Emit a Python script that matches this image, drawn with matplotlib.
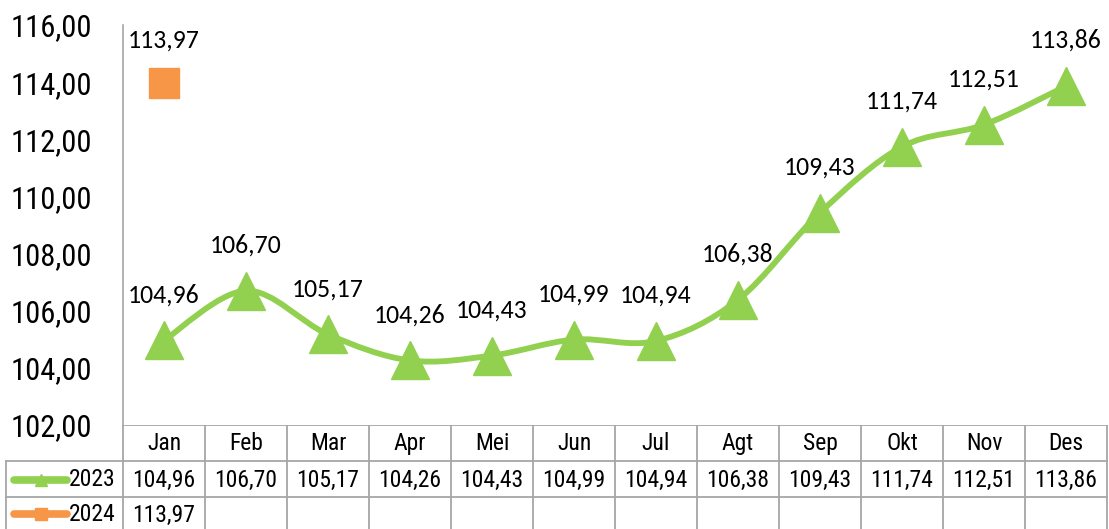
import matplotlib.pyplot as plt
import numpy as np
from matplotlib.path import Path
from matplotlib.patches import PathPatch
from matplotlib.lines import Line2D

# Data
months = ['Jan', 'Feb', 'Mar', 'Apr', 'Mei', 'Jun', 'Jul', 'Agt', 'Sep', 'Okt', 'Nov', 'Des']
values_2023 = [104.96, 106.70, 105.17, 104.26, 104.43, 104.99, 104.94, 106.38, 109.43, 111.74, 112.51, 113.86]
values_2024 = [113.97]
series_names = ['2023', '2024']
y_ticks = [102, 104, 106, 108, 110, 112, 114, 116]

green = '#92D050'
orange = '#F79646'
grid_gray = '#A6A6A6'
narrow = ['Roboto Condensed', 'Archivo Narrow', 'DejaVu Sans']
label_family = ['Carlito', 'Open Sans', 'DejaVu Sans']

W, H = 1109, 529
fig = plt.figure(figsize=(W / 100, H / 100), dpi=100)

# plot area in pixels
left, right, top, bottom = 123, 1107, 25, 425


def fx(px):
    return px / W


def fy(py):
    return 1 - py / H


def fmt(v):
    return ('%.2f' % v).replace('.', ',')


ax = fig.add_axes([fx(left), fy(bottom), fx(right) - fx(left), fy(top) - fy(bottom)])
ax.set_xlim(0, len(months))
ax.set_ylim(102, 116)
for s in ['top', 'right', 'bottom']:
    ax.spines[s].set_visible(False)
ax.spines['left'].set_color(grid_gray)
ax.spines['left'].set_linewidth(1.2)
ax.set_xticks([])
ax.set_yticks(y_ticks)
ax.set_yticklabels([fmt(v) for v in y_ticks], family=narrow, fontsize=22)
ax.tick_params(axis='y', length=0, pad=22)

x = np.arange(len(months)) + 0.5
y = np.array(values_2023)

# smoothed line (Bezier through data points, like Excel's smoothed line)
pts = np.column_stack([x, y])
verts = [pts[0]]
codes = [Path.MOVETO]
n = len(pts)
for i in range(n - 1):
    p0 = pts[i - 1] if i > 0 else pts[i]
    p1 = pts[i]
    p2 = pts[i + 1]
    p3 = pts[i + 2] if i + 2 < n else pts[i + 1]
    c1 = p1 + (p2 - p0) / 6
    c2 = p2 - (p3 - p1) / 6
    verts += [c1, c2, p2]
    codes += [Path.CURVE4] * 3
ax.add_patch(PathPatch(Path(verts, codes), facecolor='none', edgecolor=green,
                       linewidth=4.2, capstyle='round', joinstyle='round'))
ax.plot(x, y, linestyle='none', marker='^', markersize=27, color=green)

x24 = np.arange(len(values_2024)) + 0.5
ax.plot(x24, values_2024, linestyle='none', marker='s', markersize=21, color=orange)

label_font = dict(family=label_family, fontsize=18.5, ha='center', va='center')
for xi, yi in zip(x, y):
    ax.annotate(fmt(yi), (xi, yi), xytext=(0, 33), textcoords='offset points', **label_font)
for xi, yi in zip(x24, values_2024):
    ax.annotate(fmt(yi), (xi, yi), xytext=(0, 31), textcoords='offset points', **label_font)

# data table below the chart
tax = fig.add_axes([0, 0, 1, fy(bottom)])
tax.set_xlim(0, W)
tax.set_ylim(H, bottom - 1)
tax.axis('off')

row_edges = [424, 460, 497, 529]
col_w = (right - left) / len(months)
col_edges = [left + i * col_w for i in range(len(months) + 1)]
label_left = 6

lkw = dict(color=grid_gray, linewidth=1.3)
# horizontal lines
tax.add_line(Line2D([left, right], [row_edges[0]] * 2, **lkw))
for r in row_edges[1:3]:
    tax.add_line(Line2D([label_left, right], [r, r], **lkw))
# vertical lines
for c in col_edges:
    tax.add_line(Line2D([c, c], [row_edges[0], H], **lkw))
tax.add_line(Line2D([label_left, label_left], [row_edges[1], H], **lkw))

cell_font = dict(family=narrow, fontsize=17, ha='center', va='center')
for i, m in enumerate(months):
    cx = left + (i + 0.5) * col_w
    tax.text(cx, (row_edges[0] + row_edges[1]) / 2 + 1, m, **cell_font)
    tax.text(cx, (row_edges[1] + row_edges[2]) / 2 + 1, fmt(values_2023[i]), **cell_font)
for i, v in enumerate(values_2024):
    cx = left + (i + 0.5) * col_w
    tax.text(cx, (row_edges[2] + row_edges[3]) / 2 + 2, fmt(v), **cell_font)

# legend keys in the table
for name, color, mk, r in [(series_names[0], green, '^', 1), (series_names[1], orange, 's', 2)]:
    cy = (row_edges[r] + row_edges[r + 1]) / 2 + 1
    tax.add_line(Line2D([14, 67], [cy, cy], color=color, linewidth=5.5, solid_capstyle='round'))
    tax.plot([41], [cy], marker=mk, markersize=9, color=color, linestyle='none')
    tax.text(116, cy, name, family=narrow, fontsize=17, ha='right', va='center')

fig.savefig('out.png', dpi=100)
